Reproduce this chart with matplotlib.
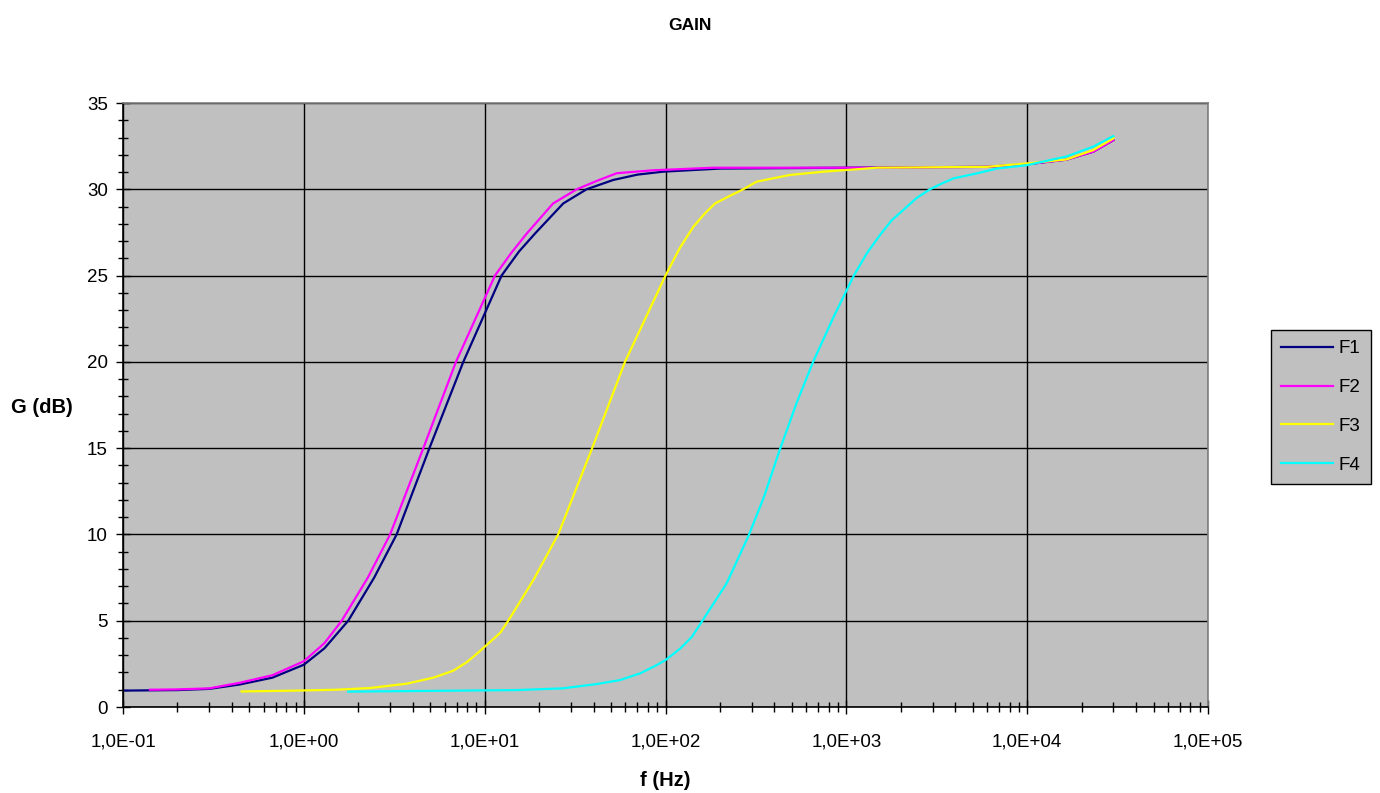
import numpy as np
import matplotlib.pyplot as plt
from matplotlib.ticker import FixedLocator, FuncFormatter, MultipleLocator, NullFormatter

plt.rcParams['font.family'] = ['Liberation Sans', 'DejaVu Sans']

# data
f1 = [0.1, 0.2, 0.3, 0.44, 0.67, 1.0, 1.3, 1.76, 2.45, 3.26, 4.95, 7.62, 12.4, 15.5, 19.0, 27.2, 36.6,
      51.4, 70, 96.8, 200, 1000, 6000, 10000, 16500, 23200, 30000]
g1 = [0.95, 0.98, 1.05, 1.3, 1.7, 2.45, 3.4, 5.0, 7.5, 10.0, 15.0, 20.0, 25.0, 26.4, 27.44, 29.18, 30.0,
      30.54, 30.85, 31.02, 31.2, 31.25, 31.3, 31.45, 31.72, 32.18, 32.85]

f2 = [0.141, 0.2, 0.3, 0.44, 0.67, 1.0, 1.3, 1.62, 2.26, 3.0, 4.58, 6.94, 11.4, 14.0, 17.1, 23.9, 32.3,
      42, 53.7, 65, 85, 183, 1440, 5970, 10000, 16500, 23200, 30000]
g2 = [1.0, 1.02, 1.08, 1.4, 1.84, 2.65, 3.7, 5.0, 7.5, 10.0, 15.0, 20.0, 25.0, 26.3, 27.44, 29.18, 30.0,
      30.5, 30.93, 31.0, 31.1, 31.25, 31.25, 31.3, 31.45, 31.72, 32.18, 32.85]

f3 = [0.453, 0.9, 1.5, 2.32, 3.7, 5.2, 6.7, 7.97, 9.2, 12.2, 13.5, 18.6, 25.5, 39.3, 59.7, 100, 120,
      142.6, 165, 188, 230, 269, 319, 400, 488, 747, 1140, 1470, 5970, 10000, 16500, 23200, 30000]
g3 = [0.9, 0.95, 1.0, 1.1, 1.35, 1.7, 2.1, 2.6, 3.15, 4.3, 5.0, 7.36, 10.0, 15.0, 20.0, 25.0, 26.6,
      27.83, 28.6, 29.18, 29.65, 30.0, 30.44, 30.65, 30.83, 31.02, 31.16, 31.25, 31.3, 31.5, 31.73, 32.27, 32.95]

f4 = [1.76, 15, 27, 41.7, 56, 72.5, 89.5, 100, 121, 140, 160, 218, 290, 351, 425, 530, 655, 850, 1100,
      1300, 1535, 1780, 2065, 2450, 2900, 3400, 3910, 5260, 6790, 10000, 16500, 23200, 29900]
g4 = [0.89, 0.98, 1.08, 1.33, 1.56, 1.95, 2.43, 2.72, 3.4, 4.07, 5.0, 7.17, 10.0, 12.2, 14.8, 17.6, 20.0, 22.6, 25.0,
      26.3, 27.35, 28.2, 28.8, 29.5, 30.0, 30.35, 30.63, 30.92, 31.2, 31.4, 31.9, 32.47, 33.08]

series = [('F1', f1, g1, '#000080'),
          ('F2', f2, g2, '#FF00FF'),
          ('F3', f3, g3, '#FFFF00'),
          ('F4', f4, g4, '#00FFFF')]

decades = [1e-1, 1e0, 1e1, 1e2, 1e3, 1e4, 1e5]

fig = plt.figure(figsize=(13.8, 7.93), dpi=100)
ax = fig.add_axes([123/1380, 1-707/793, (1208-123)/1380, (707-103)/793])
ax.set_facecolor('#C0C0C0')

for name, f, g, c in series:
    ax.plot(f, g, color=c, lw=1.6, label=name)

ax.set_xscale('log')
ax.set_xlim(0.1, 1e5)
ax.set_ylim(0, 35)

ax.yaxis.set_major_locator(MultipleLocator(5))
ax.yaxis.set_minor_locator(MultipleLocator(1))
ax.xaxis.set_major_locator(FixedLocator(decades))
minor = [d * k for d in decades[:-1] for k in range(2, 10)]
ax.xaxis.set_minor_locator(FixedLocator(minor))
ax.xaxis.set_minor_formatter(NullFormatter())

def sci(v, pos):
    e = int(round(np.log10(v)))
    return "1,0E%+03d" % e

ax.xaxis.set_major_formatter(FuncFormatter(sci))

ax.grid(True, which='major', color='black', lw=1)
ax.tick_params(axis='both', which='major', direction='inout', length=10, width=1, labelsize=13.5)
ax.tick_params(axis='both', which='minor', direction='inout', length=7, width=1)
ax.tick_params(axis='x', which='major', pad=14)
ax.tick_params(axis='y', which='major', pad=6)

for s in ['left', 'bottom']:
    ax.spines[s].set_color('black')
    ax.spines[s].set_linewidth(1.2)
for s in ['top', 'right']:
    ax.spines[s].set_color('#808080')
    ax.spines[s].set_linewidth(1.2)

fig.text(690/1380, 1-25/793, 'GAIN', ha='center', va='center', fontsize=12.5, fontweight='bold')
fig.text(42/1380, 1-407/793, 'G (dB)', ha='center', va='center', fontsize=14.5, fontweight='bold')
fig.text(665/1380, 1-780/793, 'f (Hz)', ha='center', va='center', fontsize=14.5, fontweight='bold')

leg = fig.legend(loc='upper left', bbox_to_anchor=(1271/1380, 1-330/793), fontsize=13.5,
                 frameon=True, fancybox=False, handlelength=2.75, labelspacing=1.15,
                 borderpad=0.55, handletextpad=0.3, borderaxespad=0)
leg.get_frame().set_facecolor('#C0C0C0')
leg.get_frame().set_edgecolor('black')
leg.get_frame().set_alpha(1)

fig.savefig('out.png', dpi=100)
